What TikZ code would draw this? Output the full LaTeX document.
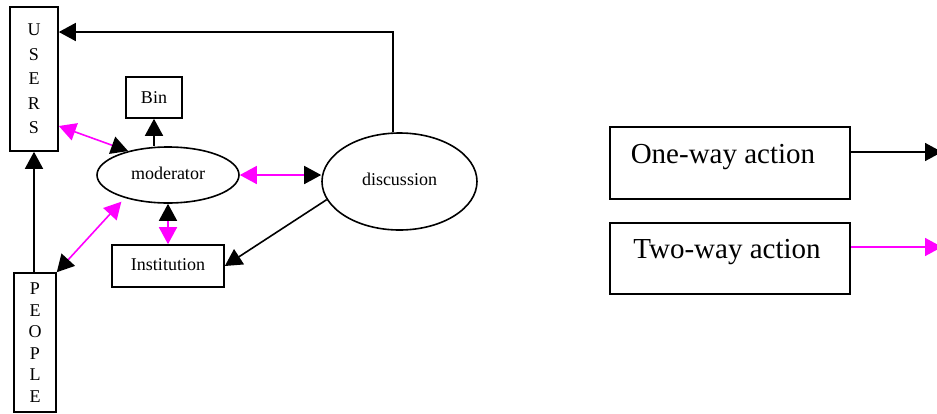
\documentclass[tikz,border=0pt]{standalone}
\usepackage{fontspec}
\setmainfont{Liberation Serif}
\usetikzlibrary{arrows.meta,shapes.geometric}
\definecolor{mag}{RGB}{255,0,255}
\tikzset{
  mh/.tip={Triangle[length=17pt,width=18pt,color=mag]},
  bh/.tip={Triangle[length=17pt,width=18pt,color=black]},
}
\begin{document}
\begin{tikzpicture}[x=1pt,y=-1pt,
  box/.style={draw,line width=1.6pt,inner sep=0pt,align=center},
  oval/.style={draw,ellipse,line width=1.6pt,inner sep=0pt},
  lbl/.style={font=\fontsize{18}{22}\selectfont},
  one/.style={line width=1.6pt,-bh},
  two/.style={line width=1.6pt,draw=mag},
]
\useasboundingbox (0,0) rectangle (937,413);
% nodes
\node[box,minimum width=48pt,minimum height=144pt,font=\fontsize{18}{24.5}\selectfont] (users) at (34,79) {U\\S\\E\\R\\S};
\node[box,minimum width=42pt,minimum height=139pt,font=\fontsize{18}{21.6}\selectfont] (people) at (35,342.5) {P\\E\\O\\P\\L\\E};
\node[box,lbl,minimum width=56pt,minimum height=41pt] (bin) at (154,97.5) {Bin};
\node[oval,lbl,minimum width=142pt,minimum height=56pt] (moderator) at (168,175) {moderator\vphantom{y}};
\node[box,lbl,minimum width=112pt,minimum height=42pt] (inst) at (168,266) {Institution\vphantom{y}};
\node[oval,lbl,minimum width=155pt,minimum height=97pt] (discussion) at (399.5,181.5) {discussion\vphantom{y}};
% legend
\node[box,minimum width=240pt,minimum height=72pt] (legone) at (730,163) {};
\node[font=\fontsize{29}{30}\selectfont] (txtone) at (723,157) {One-way action};
\node[box,minimum width=240pt,minimum height=71pt] (legtwo) at (730,258.5) {};
\node[font=\fontsize{29}{30}\selectfont] (txttwo) at (727,252) {Two-way action};
\coordinate (oneend) at (942,152);
\coordinate (twoend) at (942,247);
% connectors
\draw[one] ([xshift=-6.5pt]discussion.north) |- ([yshift=47pt]users.east);
\draw[one] (users.south |- people.north) -- (users.south);
\draw[one] (bin.south |- moderator.north) -- (bin.south);
\draw[one] (discussion.194) -- (inst.east);
\draw[two,mh-bh] ([yshift=-47pt]users.east) -- (moderator.149);
\draw[two,mh-bh] (moderator.east) -- (discussion.west |- moderator.east);
\draw[two,bh-mh] (moderator.south) -- (inst.north);
\draw[two,bh-mh,shorten >=5pt] (people.north east) -- (moderator.208);
\draw[one] (legone.east |- oneend) -- (oneend);
\draw[two,-mh] (legtwo.east |- twoend) -- (twoend);
\end{tikzpicture}
\end{document}
